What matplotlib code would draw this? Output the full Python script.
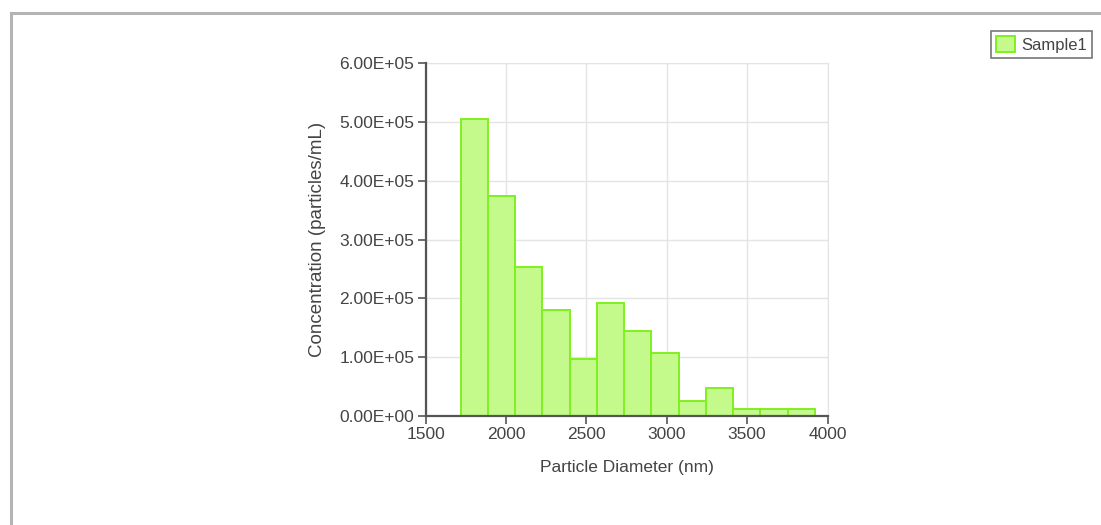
import matplotlib
matplotlib.use('Agg')
import matplotlib.pyplot as plt
from matplotlib.lines import Line2D
from matplotlib.ticker import FuncFormatter

# bin edges (nm) and concentration per bin (particles/mL)
bin_edges = [1719, 1888, 2058, 2227, 2397, 2566, 2736, 2905, 3075, 3244, 3414, 3583, 3753, 3922]
concentration = [5.05e5, 3.74e5, 2.54e5, 1.80e5, 0.96e5, 1.92e5, 1.44e5, 1.07e5,
                 0.25e5, 0.48e5, 0.11e5, 0.11e5, 0.11e5]
x_ticks = [1500, 2000, 2500, 3000, 3500, 4000]
y_ticks = [0, 1e5, 2e5, 3e5, 4e5, 5e5, 6e5]
series_name = 'Sample1'

plt.rcParams['font.family'] = ['Liberation Sans', 'DejaVu Sans']
text_col = '#444444'

W, H = 1101, 525
fig = plt.figure(figsize=(W / 100, H / 100), dpi=100)
ax = fig.add_axes([425.5 / W, (H - 415.7) / H, 402 / W, 352.4 / H])

lefts = bin_edges[:-1]
widths = [b - a for a, b in zip(bin_edges[:-1], bin_edges[1:])]
ax.bar(lefts, concentration, width=widths, align='edge', color='#c4fa8c',
       edgecolor='#80f020', linewidth=1.4, label=series_name, zorder=3)

ax.set_xlim(1500, 4000)
ax.set_ylim(0, 6e5)
ax.set_xticks(x_ticks)
ax.set_yticks(y_ticks)
ax.yaxis.set_major_formatter(FuncFormatter(lambda v, p: f'{v:.2E}'))
ax.grid(True, color='#e4e4e4', linewidth=1, zorder=0)

for s in ['top', 'right']:
    ax.spines[s].set_color('#e4e4e4')
for s in ['left', 'bottom']:
    ax.spines[s].set_color('#555555')
    ax.spines[s].set_linewidth(1.6)
    ax.spines[s].set_zorder(4)

ax.tick_params(axis='both', labelsize=12.5, colors='#555555', labelcolor=text_col,
               length=6, width=1.2, pad=2)

ax.set_xlabel('Particle Diameter (nm)', fontsize=12.5, color=text_col, labelpad=13)
ax.set_ylabel('Concentration (particles/mL)', fontsize=13.5, color=text_col, labelpad=10)

leg = fig.legend(loc='upper right', bbox_to_anchor=(1092 / W, 1 - 31 / H),
                 fontsize=12, frameon=True, fancybox=False, handlelength=1.1,
                 handleheight=1.1, handletextpad=0.4, borderpad=0.3,
                 borderaxespad=0)
leg.get_frame().set_edgecolor('#555555')
leg.get_frame().set_linewidth(1.2)
for t in leg.get_texts():
    t.set_color(text_col)

# grey frame around the widget (top and left edges visible)
fx = 11 / W
fy = 1 - 13 / H
fig.add_artist(Line2D([fx, 1.0], [fy, fy], color='#b4b4b4', linewidth=2.2))
fig.add_artist(Line2D([fx, fx], [0.0, fy], color='#b4b4b4', linewidth=2.2))

fig.savefig('out.png', dpi=100)
